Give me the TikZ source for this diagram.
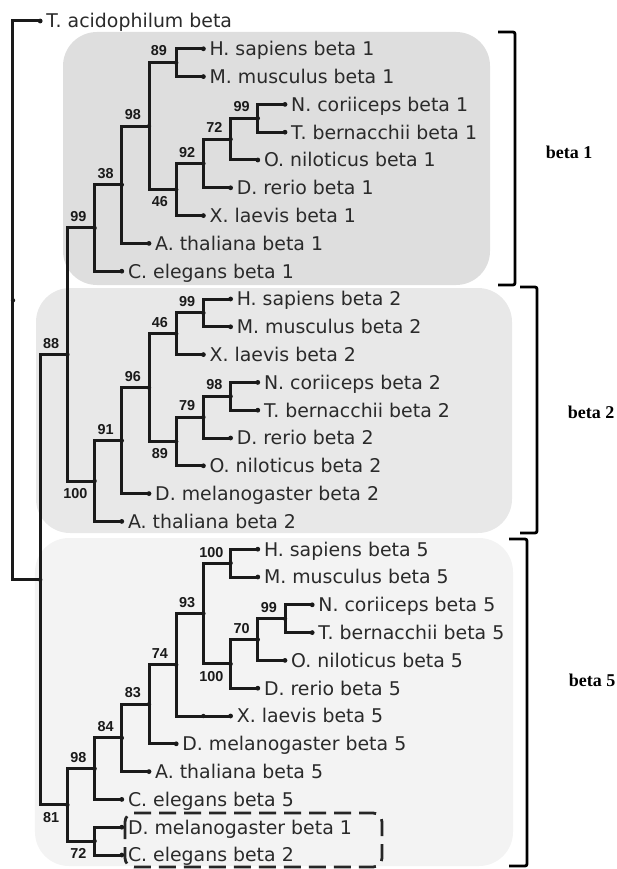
\documentclass[tikz,border=0pt]{standalone}
\usepackage{fontspec}
\usepackage{xcolor}
\usepackage{tikz}
\usetikzlibrary{positioning}
\newfontfamily\leaffont{DejaVu Sans}
\newfontfamily\bootfont{Liberation Sans}
\newfontfamily\groupfont{Liberation Serif}
\definecolor{cladeone}{HTML}{DEDEDE}
\definecolor{cladetwo}{HTML}{E8E8E8}
\definecolor{cladefive}{HTML}{F3F3F3}
\definecolor{branchcol}{HTML}{1A1A1A}
\definecolor{leafcol}{HTML}{2A2A2A}

\begin{document}
\begin{tikzpicture}[
    x=27.2pt, y=-27.8pt,
    every node/.style={inner sep=0pt},
    leaf/.style={anchor=west, inner xsep=6pt, text height=13.8pt, text depth=0pt, text=leafcol, font=\leaffont\fontsize{18.9pt}{20pt}\selectfont},
    boot/.style={text=branchcol, font=\bootfont\bfseries\fontsize{14.4pt}{16pt}\selectfont},
    branch/.style={draw=branchcol, line width=3pt},
    bracket/.style={draw=black, line width=2.8pt, rounded corners=2pt},
    cladebox/.style={rounded corners=34pt},
    dashbox/.style={draw=black!85, line width=2.8pt, dash pattern=on 17pt off 8pt, rounded corners=9pt},
    grouplabel/.style={font=\groupfont\bfseries\fontsize{18pt}{20pt}\selectfont}
]
\useasboundingbox (-13pt,21pt) rectangle (604pt,-848pt);

% Clade boxes
\fill[cladeone, cladebox] (50pt,-11pt) rectangle (477pt,-264pt);
\fill[cladetwo, cladebox] (23pt,-267pt) rectangle (499pt,-512pt);
\fill[cladefive, cladebox] (22pt,-517pt) rectangle (500pt,-845pt);
\draw[dashbox] (112pt,-792pt) rectangle (369pt,-846pt);

% Leaves
\node[leaf] (ta) at (1,0) {T. acidophilum beta};
\node[leaf] (hs1) at (7,1) {H. sapiens beta 1};
\node[leaf] (mm1) at (7,2) {M. musculus beta 1};
\node[leaf] (nc1) at (10,3) {N. coriiceps beta 1};
\node[leaf] (tb1) at (10,4) {T. bernacchii beta 1};
\node[leaf] (on1) at (9,5) {O. niloticus beta 1};
\node[leaf] (dr1) at (8,6) {D. rerio beta 1};
\node[leaf] (xl1) at (7,7) {X. laevis beta 1};
\node[leaf] (at1) at (5,8) {A. thaliana beta 1};
\node[leaf] (ce1) at (4,9) {C. elegans beta 1};
\node[leaf] (hs2) at (8,10) {H. sapiens beta 2};
\node[leaf] (mm2) at (8,11) {M. musculus beta 2};
\node[leaf] (xl2) at (7,12) {X. laevis beta 2};
\node[leaf] (nc2) at (9,13) {N. coriiceps beta 2};
\node[leaf] (tb2) at (9,14) {T. bernacchii beta 2};
\node[leaf] (dr2) at (8,15) {D. rerio beta 2};
\node[leaf] (on2) at (7,16) {O. niloticus beta 2};
\node[leaf] (dm2) at (5,17) {D. melanogaster beta 2};
\node[leaf] (at2) at (4,18) {A. thaliana beta 2};
\node[leaf] (hs5) at (9,19) {H. sapiens beta 5};
\node[leaf] (mm5) at (9,20) {M. musculus beta 5};
\node[leaf] (nc5) at (11,21) {N. coriiceps beta 5};
\node[leaf] (tb5) at (11,22) {T. bernacchii beta 5};
\node[leaf] (on5) at (10,23) {O. niloticus beta 5};
\node[leaf] (dr5) at (9,24) {D. rerio beta 5};
\node[leaf] (xl5) at (8,25) {X. laevis beta 5};
\node[leaf] (dm5) at (6,26) {D. melanogaster beta 5};
\node[leaf] (at5) at (5,27) {A. thaliana beta 5};
\node[leaf] (ce5) at (4,28) {C. elegans beta 5};
\node[leaf] (dm1) at (4,29) {D. melanogaster beta 1};
\node[leaf] (ce2) at (4,30) {C. elegans beta 2};

% Inner nodes
\coordinate (g1a) at (9,3.5);
\coordinate (g1b) at (8,4.25);
\coordinate (g1c) at (7,5.125);
\coordinate (g1d) at (6,6.0625);
\coordinate (g1e) at (6,1.5);
\coordinate (g1f) at (5,3.78125);
\coordinate (g1g) at (4,5.890625);
\coordinate (g1h) at (3,7.4453125);
\coordinate (g2a) at (7,10.5);
\coordinate (g2b) at (6,11.25);
\coordinate (g2c) at (8,13.5);
\coordinate (g2d) at (7,14.25);
\coordinate (g2e) at (6,15.125);
\coordinate (g2f) at (5,13.1875);
\coordinate (g2g) at (4,15.09375);
\coordinate (g2h) at (3,16.546875);
\coordinate (n88) at (2,11.99609375);
\coordinate (g5a) at (8,19.5);
\coordinate (g5b) at (10,21.5);
\coordinate (g5c) at (9,22.25);
\coordinate (g5d) at (8,23.125);
\coordinate (g5e) at (7,21.3125);
\coordinate (g5f) at (6,23.15625);
\coordinate (g5g) at (5,24.578125);
\coordinate (g5h) at (4,25.7890625);
\coordinate (g5i) at (3,26.89453125);
\coordinate (g5j) at (3,29.5);
\coordinate (n81) at (2,28.197265625);
\coordinate (nA) at (1,20.0966796875);
\coordinate (root) at (0,10.04833984375);
\coordinate (xl5k) at (7,25);

% Branches
\draw[branch] (nc1.west) -| (g1a) |- (tb1.west);
\draw[branch] (g1a) -| (g1b) |- (on1.west);
\draw[branch] (g1b) -| (g1c) |- (dr1.west);
\draw[branch] (g1c) -| (g1d) |- (xl1.west);
\draw[branch] (hs1.west) -| (g1e) |- (mm1.west);
\draw[branch] (g1e) -| (g1f) |- (g1d);
\draw[branch] (g1f) -| (g1g) |- (at1.west);
\draw[branch] (g1g) -| (g1h) |- (ce1.west);
\draw[branch] (hs2.west) -| (g2a) |- (mm2.west);
\draw[branch] (g2a) -| (g2b) |- (xl2.west);
\draw[branch] (nc2.west) -| (g2c) |- (tb2.west);
\draw[branch] (g2c) -| (g2d) |- (dr2.west);
\draw[branch] (g2d) -| (g2e) |- (on2.west);
\draw[branch] (g2b) -| (g2f) |- (g2e);
\draw[branch] (g2f) -| (g2g) |- (dm2.west);
\draw[branch] (g2g) -| (g2h) |- (at2.west);
\draw[branch] (g1h) -| (n88) |- (g2h);
\draw[branch] (hs5.west) -| (g5a) |- (mm5.west);
\draw[branch] (nc5.west) -| (g5b) |- (tb5.west);
\draw[branch] (g5b) -| (g5c) |- (on5.west);
\draw[branch] (g5c) -| (g5d) |- (dr5.west);
\draw[branch] (g5a) -| (g5e) |- (g5d);
\draw[branch] (g5e) -| (g5f) |- (xl5.west);
\draw[branch] (g5f) -| (g5g) |- (dm5.west);
\draw[branch] (g5g) -| (g5h) |- (at5.west);
\draw[branch] (g5h) -| (g5i) |- (ce5.west);
\draw[branch] (dm1.west) -| (g5j) |- (ce2.west);
\draw[branch] (g5i) -| (n81) |- (g5j);
\draw[branch] (n88) -| (nA) |- (n81);
\draw[branch] (ta.west) -| (root) |- (nA);

% Dots
\foreach \n in {ta,hs1,mm1,nc1,tb1,on1,dr1,xl1,at1,ce1,hs2,mm2,xl2,nc2,tb2,dr2,on2,dm2,at2,
    hs5,mm5,nc5,tb5,on5,dr5,xl5,dm5,at5,ce5,dm1,ce2}
    \fill[branchcol] (\n.west) circle (2.4pt);
\foreach \n in {g1a,g1b,g1c,g1d,g1e,g1f,g1g,g1h,g2a,g2b,g2c,g2d,g2e,g2f,g2g,g2h,n88,
    g5a,g5b,g5c,g5d,g5e,g5f,g5g,g5h,g5i,g5j,n81,nA,root,xl5k}
    \fill[branchcol] (\n) circle (2.2pt);

% Bootstrap values
\node[boot, above left=6pt and 8pt of g1a] (g1a-bs) {99};
\node[boot, above left=6pt and 8pt of g1b] (g1b-bs) {72};
\node[boot, above left=6pt and 8pt of g1c] (g1c-bs) {92};
\node[boot, below left=7pt and 8pt of g1d] (g1d-bs) {46};
\node[boot, above left=7pt and 9pt of g1e] (g1e-bs) {89};
\node[boot, above left=6pt and 8pt of g1f] (g1f-bs) {98};
\node[boot, above left=6pt and 8pt of g1g] (g1g-bs) {38};
\node[boot, above left=6pt and 8pt of g1h] (g1h-bs) {99};
\node[boot, above left=6pt and 8pt of g2a] (g2a-bs) {99};
\node[boot, above left=6pt and 8pt of g2b] (g2b-bs) {46};
\node[boot, above left=6pt and 8pt of g2c] (g2c-bs) {98};
\node[boot, above left=6pt and 8pt of g2d] (g2d-bs) {79};
\node[boot, below left=7pt and 8pt of g2e] (g2e-bs) {89};
\node[boot, above left=6pt and 8pt of g2f] (g2f-bs) {96};
\node[boot, above left=6pt and 8pt of g2g] (g2g-bs) {91};
\node[boot, below left=7pt and 7pt of g2h] (g2h-bs) {100};
\node[boot, above left=6pt and 8pt of n88] (n88-bs) {88};
\node[boot, above left=5pt and 7pt of g5a] (g5a-bs) {100};
\node[boot, above left=6pt and 8pt of g5b] (g5b-bs) {99};
\node[boot, above left=6pt and 8pt of g5c] (g5c-bs) {70};
\node[boot, below left=7pt and 7pt of g5d] (g5d-bs) {100};
\node[boot, above left=6pt and 8pt of g5e] (g5e-bs) {93};
\node[boot, above left=6pt and 8pt of g5f] (g5f-bs) {74};
\node[boot, above left=6pt and 8pt of g5g] (g5g-bs) {83};
\node[boot, above left=6pt and 8pt of g5h] (g5h-bs) {84};
\node[boot, above left=6pt and 8pt of g5i] (g5i-bs) {98};
\node[boot, below left=7pt and 8pt of g5j] (g5j-bs) {72};
\node[boot, below left=7pt and 8pt of n81] (n81-bs) {81};

% Brackets
\draw[bracket] (485pt,-11pt) -- (502pt,-11pt) -- (502pt,-264pt) -- (485pt,-264pt);
\draw[bracket] (507pt,-266pt) -- (524pt,-266pt) -- (524pt,-512pt) -- (507pt,-512pt);
\draw[bracket] (496pt,-518pt) -- (514pt,-518pt) -- (514pt,-845pt) -- (496pt,-845pt);

% Labels
\node[grouplabel] (beta1) at (556pt,-131pt) {beta 1};
\node[grouplabel] (beta2) at (578pt,-391pt) {beta 2};
\node[grouplabel] (beta5) at (579pt,-659pt) {beta 5};

\end{tikzpicture}
\end{document}
